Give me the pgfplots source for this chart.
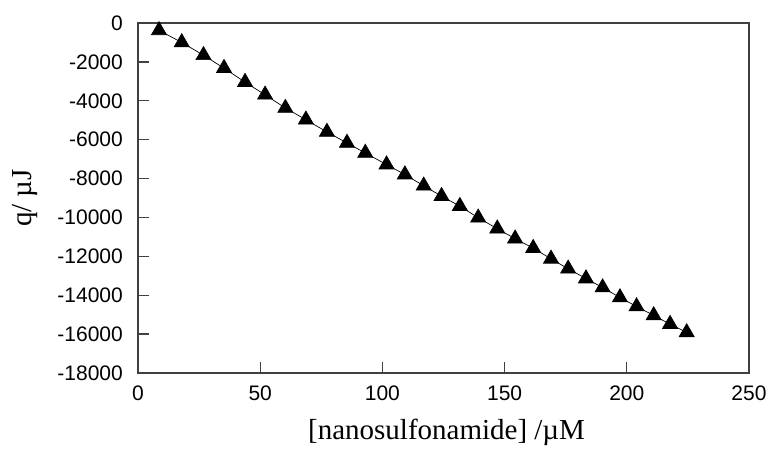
\documentclass[border=0pt]{standalone}
\usepackage{fontspec}
\setmainfont{Liberation Serif}
\newfontfamily\sansf{Liberation Sans}
\usepackage{pgfplots}
\pgfplotsset{compat=1.18}
\begin{document}
\begin{tikzpicture}
\begin{axis}[
    scale only axis,
    width=611pt, height=350pt,
    xmin=0, xmax=250, ymin=-18000, ymax=0,
    scaled x ticks=false, scaled y ticks=false,
    xtick={0,50,100,150,200,250},
    xticklabels={0,50,100,150,200,250},
    ytick={-18000,-16000,-14000,-12000,-10000,-8000,-6000,-4000,-2000,0},
    yticklabels={-18000,-16000,-14000,-12000,-10000,-8000,-6000,-4000,-2000,0},
    tick pos=left, tick align=inside,
    major tick length=11pt,
    axis line style={black!75, line width=1.3pt},
    every tick/.style={black!75, line width=1.3pt},
    tick label style={font=\fontsize{21}{25}\selectfont\sansf, inner sep=0pt},
    xticklabel style={anchor=north, yshift=-13pt},
    yticklabel style={anchor=east, xshift=-15pt},
    xlabel={[nanosulfonamide] /µM},
    ylabel={q/ µJ},
    xlabel style={at={(axis description cs:0.505,-0.169)}, anchor=center, font=\fontsize{29}{34}\selectfont},
    ylabel style={at={(axis description cs:-0.185,0.5)}, anchor=center, font=\fontsize{29}{34}\selectfont},
    clip=false,
]
\coordinate (o) at (rel axis cs:0,0);

% heat vs concentration
\addplot[black, line width=0.7pt, mark=triangle*, mark size=8.7pt, mark options={solid, fill=black}] coordinates {
    (8.6, -380)
    (17.9, -1000)
    (26.8, -1660)
    (35.2, -2323)
    (43.8, -3040)
    (52.0, -3692)
    (60.3, -4374)
    (68.7, -4974)
    (77.3, -5605)
    (85.5, -6169)
    (93.0, -6683)
    (101.7, -7282)
    (109.2, -7795)
    (116.9, -8370)
    (124.2, -8907)
    (131.7, -9420)
    (139.2, -10015)
    (147.0, -10579)
    (154.3, -11092)
    (161.7, -11580)
    (169.0, -12130)
    (176.0, -12640)
    (183.3, -13143)
    (190.1, -13605)
    (197.2, -14118)
    (204.0, -14580)
    (211.0, -15040)
    (217.7, -15487)
    (224.5, -15913)
};
\end{axis}
\pgfresetboundingbox
\path ([shift={(-138pt,-77pt)}]o) rectangle ++(768pt,450pt);
\end{tikzpicture}
\end{document}
